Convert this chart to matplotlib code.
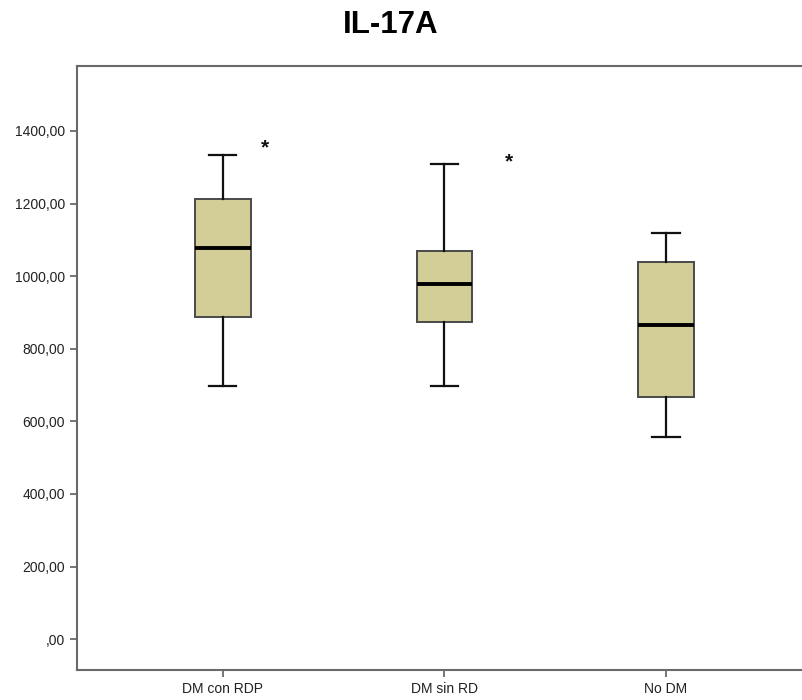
import matplotlib
matplotlib.use("Agg")
import matplotlib.pyplot as plt
from matplotlib.ticker import FuncFormatter

# datos (IL-17A por grupo)
grupos = ["DM con RDP", "DM sin RD", "No DM"]
bigote_inf = [698, 698, 557]
q1 = [888, 873, 666]
mediana = [1077, 977, 865]
q3 = [1213, 1069, 1040]
bigote_sup = [1334, 1308, 1118]
atipicos = [[1364], [1326], []]

plt.rcParams["font.family"] = ["Liberation Sans", "DejaVu Sans"]

fig = plt.figure(figsize=(8.03, 7), dpi=100)
ax = fig.add_axes([0.0955, 0.0429, 0.916, 0.8634])

stats = []
for i, g in enumerate(grupos):
    stats.append({"label": g, "whislo": bigote_inf[i], "q1": q1[i], "med": mediana[i],
                  "q3": q3[i], "whishi": bigote_sup[i], "fliers": []})

pos = list(range(1, len(grupos) + 1))
ax.bxp(stats, positions=pos, widths=0.25, capwidths=0.122, patch_artist=True, showfliers=False,
       boxprops=dict(facecolor="#D3CE97", edgecolor="#4a4a4a", linewidth=1.4),
       whiskerprops=dict(color="#111111", linewidth=1.6),
       capprops=dict(color="#111111", linewidth=1.6),
       medianprops=dict(color="black", linewidth=2.8))

# atipicos como asteriscos (SPSS)
desplaz = [0.19, 0.29, 0.0]
for i, vals in enumerate(atipicos):
    for v in vals:
        ax.text(pos[i] + desplaz[i], v - 10, "*", ha="center", va="center", fontsize=15,
                fontweight="bold", color="#111111")

ax.set_xlim(0.34, 3.66)
ax.set_ylim(-85, 1580)
ax.set_yticks(range(0, 1401, 200))
ax.yaxis.set_major_formatter(FuncFormatter(
    lambda v, p: (f"{v:.2f}".replace(".", ",")).lstrip("0") if v == 0 else f"{v:.2f}".replace(".", ",")))

for s in ax.spines.values():
    s.set_color("#6a6a6a")
    s.set_linewidth(1.5)
ax.tick_params(axis="both", colors="#6a6a6a", width=1.3, length=5, labelsize=10, labelcolor="#222222")

fig.suptitle("IL-17A", x=0.487, y=0.986, fontsize=22.5, fontweight="bold", va="top")

plt.savefig("out.png", dpi=100)
